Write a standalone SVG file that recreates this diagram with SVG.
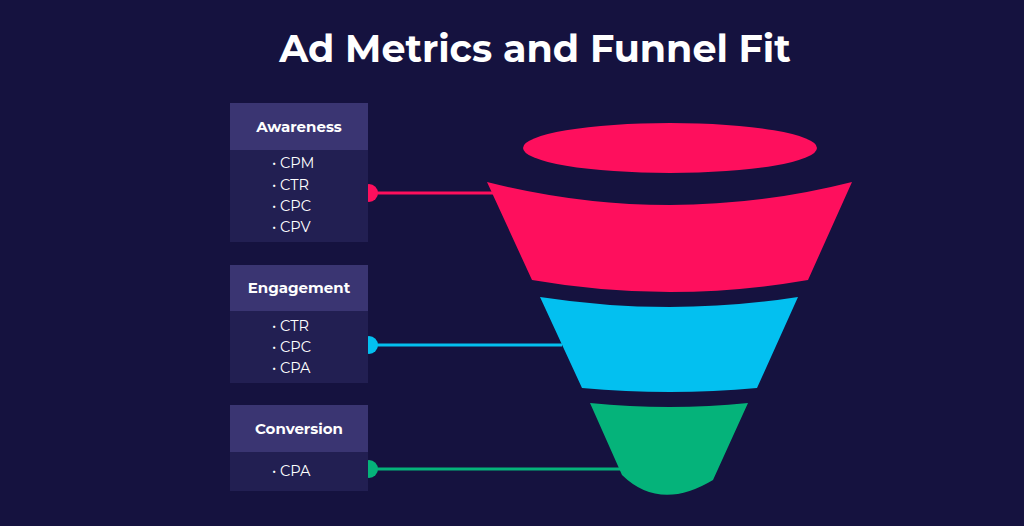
<svg xmlns="http://www.w3.org/2000/svg" width="1024" height="526" viewBox="0 0 1024 526">
<style>
.h{fill:#3a3572}.b{fill:#221f52}
.ht{font-family:Montserrat,"Open Sans","Liberation Sans",sans-serif;font-weight:bold;font-size:15px;fill:#fff;text-anchor:middle}
.it{font-family:Montserrat,"Open Sans","Liberation Sans",sans-serif;font-size:14.5px;fill:#fff}
</style>
<rect width="1024" height="526" fill="#15123f"/>
<text x="535" y="62" text-anchor="middle" font-family="Montserrat,'Open Sans','Liberation Sans',sans-serif" font-weight="bold" font-size="38" fill="#fff">Ad Metrics and Funnel Fit</text>
<g id="funnel">
<ellipse cx="670" cy="148" rx="147" ry="25" fill="#fe0f5d"/>
<path d="M487,182 Q670,228 852,182 L808,280 Q670,304 532,280 Z" fill="#fe0f5d"/>
<path d="M540,297 Q670,317 798,297 L757,388 Q670,396 582,388 Z" fill="#03c0f0"/>
<path d="M590,403 Q670,411 748,403 L713,480 Q660,512 622,475 Z" fill="#05b37a"/>
</g>
<g id="connectors">
<line x1="369" y1="193" x2="493" y2="193" stroke="#fe0f5d" stroke-width="3"/>
<circle cx="369" cy="193" r="9" fill="#fe0f5d"/>
<line x1="369" y1="345" x2="562" y2="345" stroke="#03c0f0" stroke-width="3"/>
<circle cx="369" cy="345" r="9" fill="#03c0f0"/>
<line x1="369" y1="469" x2="622" y2="469" stroke="#05b37a" stroke-width="3"/>
<circle cx="369" cy="469" r="9" fill="#05b37a"/>
</g>
<g id="awareness">
<rect class="h" x="230" y="103" width="138" height="47"/><rect class="b" x="230" y="150" width="138" height="92"/>
<text class="ht" x="299" y="132">Awareness</text>
<text class="it" x="272" y="168">•  CPM</text><text class="it" x="272" y="190">•  CTR</text><text class="it" x="272" y="211">•  CPC</text><text class="it" x="272" y="232">•  CPV</text>
</g>
<g id="engagement">
<rect class="h" x="230" y="265" width="138" height="46"/><rect class="b" x="230" y="311" width="138" height="72"/>
<text class="ht" x="299" y="293">Engagement</text>
<text class="it" x="272" y="331">•  CTR</text><text class="it" x="272" y="352">•  CPC</text><text class="it" x="272" y="373">•  CPA</text>
</g>
<g id="conversion">
<rect class="h" x="230" y="405" width="138" height="47"/><rect class="b" x="230" y="452" width="138" height="39"/>
<text class="ht" x="299" y="434">Conversion</text>
<text class="it" x="272" y="476">•  CPA</text>
</g>
</svg>
